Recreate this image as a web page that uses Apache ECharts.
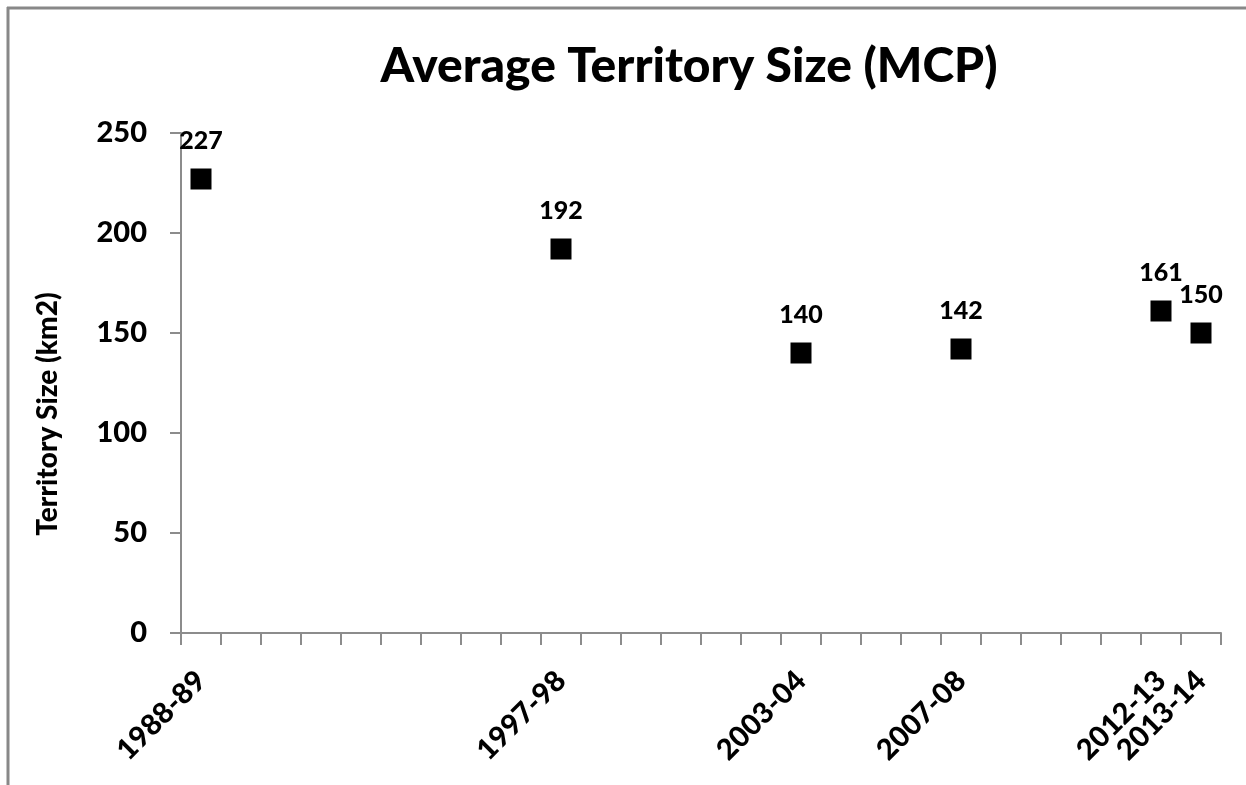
<!DOCTYPE html>
<html>
<head>
<meta charset="utf-8">
<script src="https://cdn.jsdelivr.net/npm/echarts@6/dist/echarts.min.js"></script>
<style>
html,body{margin:0;padding:0;background:#fff;}
#c{width:1246px;height:785px;}
</style>
</head>
<body>
<div id="c"></div>
<script>
var seasons = ['1988-89','1997-98','2003-04','2007-08','2012-13','2013-14'];
var startYears = [1988, 1997, 2003, 2007, 2012, 2013];
var sizes = [227, 192, 140, 142, 161, 150];
var yTicks = [0, 50, 100, 150, 200, 250];
var firstYear = 1988, lastYear = 2013;

var years = [];
for (var y = firstYear; y <= lastYear; y++) years.push(String(y));
var labelOf = {};
startYears.forEach(function(y, i){ labelOf[String(y)] = seasons[i]; });
var points = startYears.map(function(y, i){ return [String(y), sizes[i]]; });

var FONT = 'Lato';
var W = 900;
var chart = echarts.init(document.getElementById('c'), null, {renderer:'canvas'});
chart.setOption({
  backgroundColor: '#fff',
  animation: false,
  title: {
    text: 'Average Territory Size (MCP)',
    left: 684, top: 38, textAlign: 'center',
    textStyle: {fontFamily: FONT, fontWeight: W, fontSize: 48, color: '#000'}
  },
  graphic: [
    {type:'line', shape:{x1:7, y1:8, x2:1246, y2:8}, style:{stroke:'#888', lineWidth:3}},
    {type:'line', shape:{x1:8, y1:7, x2:8, y2:785}, style:{stroke:'#888', lineWidth:3}}
  ],
  grid: {left: 181, right: 25, top: 133, bottom: 152, containLabel: false},
  xAxis: {
    type: 'category',
    data: years,
    boundaryGap: true,
    axisLine: {lineStyle: {color: '#8c8c8c', width: 2}},
    axisTick: {show: true, interval: 0, length: 12, lineStyle: {color: '#8c8c8c', width: 2}},
    axisLabel: {
      interval: 0, rotate: 45, margin: 43,
      fontFamily: FONT, fontWeight: W, fontSize: 29, color: '#000',
      formatter: function(v){ return labelOf[v] || ''; }
    },
    splitLine: {show: false}
  },
  yAxis: {
    type: 'value',
    min: yTicks[0], max: yTicks[yTicks.length-1], interval: 50,
    name: 'Territory Size (km2)',
    nameLocation: 'middle', nameRotate: 90, nameGap: 119,
    nameTextStyle: {fontFamily: FONT, fontWeight: W, fontSize: 28, color: '#000', padding: [0, 62, 0, 0]},
    axisLine: {show: true, lineStyle: {color: '#8c8c8c', width: 2}},
    axisTick: {show: true, length: 11, lineStyle: {color: '#8c8c8c', width: 2}},
    axisLabel: {margin: 34, fontFamily: FONT, fontWeight: W, fontSize: 29, color: '#000'},
    splitLine: {show: false}
  },
  series: [{
    type: 'scatter',
    data: points,
    symbol: 'rect',
    symbolSize: 21,
    itemStyle: {color: '#000', opacity: 1},
    label: {
      show: true, position: 'top', distance: 15,
      fontFamily: FONT, fontWeight: W, fontSize: 25, color: '#000', opacity: 1,
      formatter: function(p){ return p.value[1]; }
    }
  }]
});
</script>
</body>
</html>
